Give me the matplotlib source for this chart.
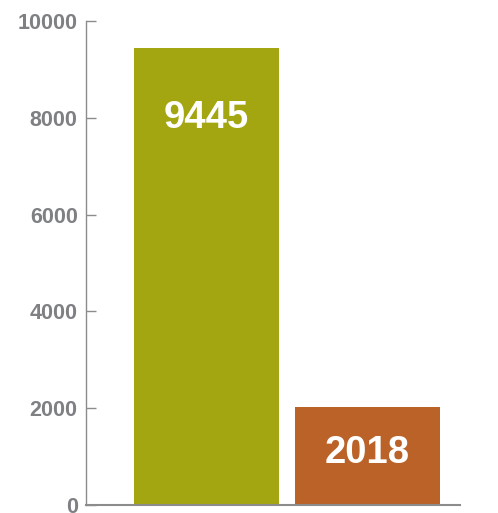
import matplotlib
matplotlib.use('Agg')
import matplotlib.pyplot as plt

# data
categories = ['A', 'B']
values = [9445, 2018]
bar_colors = ['#A3A611', '#BB6229']
label_drop = [1450, 940]  # how far below the bar top each value label sits

yticks = [0, 2000, 4000, 6000, 8000, 10000]

AXIS_GRAY = '#8C8C8C'
TEXT_GRAY = '#7F8083'

plt.rcParams['font.family'] = ['Liberation Sans', 'DejaVu Sans']

fig = plt.figure(figsize=(4.98, 5.13), dpi=100)
ax = fig.add_axes([0.1727, 0.0156, 0.751, 0.9435])

xpos = list(range(len(categories)))
ax.bar(xpos, values, width=0.9, color=bar_colors, zorder=2)

for x, v, drop in zip(xpos, values, label_drop):
    ax.text(x, v - drop, f'{v}', ha='center', va='center',
            fontsize=27.5, fontweight='bold', color='white', zorder=3)

ax.set_xlim(-0.748, 1.575)
ax.set_ylim(0, 10000)
ax.set_yticks(yticks)
ax.set_yticklabels([str(t) for t in yticks], fontsize=15.5, fontweight='bold', color=TEXT_GRAY)
ax.set_xticks([])

ax.tick_params(axis='y', direction='in', length=7.5, width=1, color=AXIS_GRAY, pad=6)
for side in ('top', 'right'):
    ax.spines[side].set_visible(False)
ax.spines['left'].set_color(AXIS_GRAY)
ax.spines['left'].set_linewidth(1)
ax.spines['bottom'].set_color(AXIS_GRAY)
ax.spines['bottom'].set_linewidth(1.5)

fig.savefig('out.png', dpi=100)
